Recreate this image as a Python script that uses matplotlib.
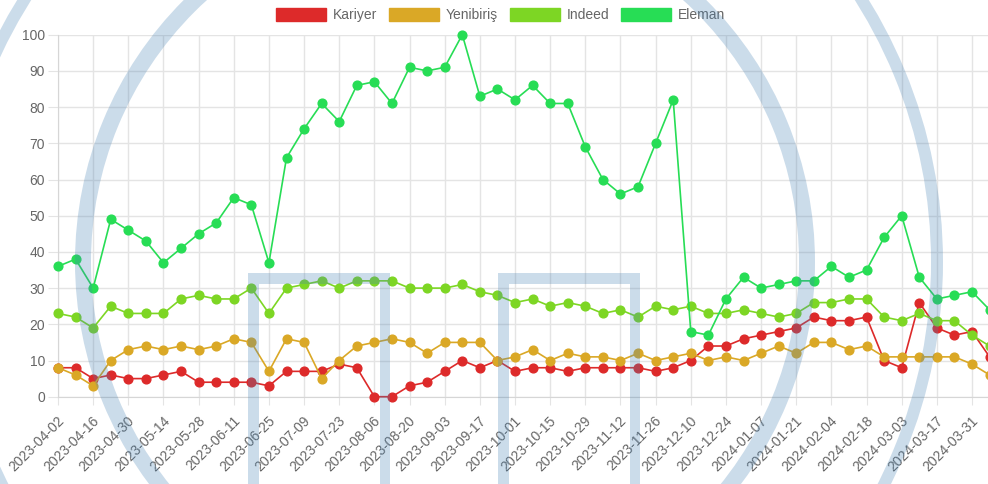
import numpy as np
import pandas as pd
import matplotlib
matplotlib.use("Agg")
import matplotlib.pyplot as plt
from matplotlib.patches import Patch, Annulus, Rectangle
from matplotlib.transforms import ScaledTranslation

plt.rcParams['font.family'] = ['Liberation Sans', 'DejaVu Sans']

# --- data (weekly) ---
dates = pd.date_range('2023-04-02', periods=54, freq='7D').strftime('%Y-%m-%d').tolist()

kariyer = [8, 8, 5, 6, 5, 5, 6, 7, 4, 4, 4, 4, 3, 7, 7, 7, 9, 8, 0, 0,
           3, 4, 7, 10, 8, 10, 7, 8, 8, 7, 8, 8, 8, 8, 7, 8, 10, 14, 14, 16,
           17, 18, 19, 22, 21, 21, 22, 10, 8, 26, 19, 17, 18, 11]
yenibiris = [8, 6, 3, 10, 13, 14, 13, 14, 13, 14, 16, 15, 7, 16, 15, 5, 10, 14, 15, 16,
             15, 12, 15, 15, 15, 10, 11, 13, 10, 12, 11, 11, 10, 12, 10, 11, 12, 10, 11, 10,
             12, 14, 12, 15, 15, 13, 14, 11, 11, 11, 11, 11, 9, 6]
indeed = [23, 22, 19, 25, 23, 23, 23, 27, 28, 27, 27, 30, 23, 30, 31, 32, 30, 32, 32, 32,
          30, 30, 30, 31, 29, 28, 26, 27, 25, 26, 25, 23, 24, 22, 25, 24, 25, 23, 23, 24,
          23, 22, 23, 26, 26, 27, 27, 22, 21, 23, 21, 21, 17, 14]
eleman = [36, 38, 30, 49, 46, 43, 37, 41, 45, 48, 55, 53, 37, 66, 74, 81, 76, 86, 87, 81,
          91, 90, 91, 100, 83, 85, 82, 86, 81, 81, 69, 60, 56, 58, 70, 82, 18, 17, 27, 33,
          30, 31, 32, 32, 36, 33, 35, 44, 50, 33, 27, 28, 29, 24]

series_names = ['Kariyer', 'Yenibiriş', 'Indeed', 'Eleman']
series_values = [kariyer, yenibiris, indeed, eleman]
colors = ['#dd2a2a', '#daa826', '#7dd624', '#27dd55']

W, H = 988, 484
fig = plt.figure(figsize=(W / 100, H / 100), dpi=100)

# plot area in pixels (last point sits on the right edge of the picture)
left_px, right_px, top_px, bottom_px = 58, 989.6, 34.7, 396.7
ax = fig.add_axes([left_px / W, 1 - bottom_px / H,
                   (right_px - left_px) / W, (bottom_px - top_px) / H])

x = np.arange(len(dates))
for name, vals, c in zip(series_names, series_values, colors):
    ax.plot(x, vals, color=c, lw=1.2, marker='o', ms=6.3, mec=c, mfc=c,
            label=name, clip_on=False, zorder=3)

ax.set_xlim(0, len(dates) - 1)
ax.set_ylim(0, 100)
ax.set_yticks(range(0, 101, 10))
ax.set_xticks(x[::2])
ax.set_xticklabels(dates[::2], rotation=45, ha='right', va='center',
                   rotation_mode='anchor')

grid_c = '#e4e4e4'
ax.grid(True, color=grid_c, lw=1)
ax.set_axisbelow(True)
for s in ['top', 'right']:
    ax.spines[s].set_visible(False)
for s in ['left', 'bottom']:
    ax.spines[s].set_color('#d6d6d6')
ax.tick_params(axis='y', length=7.2, pad=2, color=grid_c, labelcolor='#666666', labelsize=10)
ax.tick_params(axis='x', length=5.8, pad=10, color=grid_c, labelcolor='#666666', labelsize=10)
for lbl in ax.get_xticklabels():
    lbl.set_transform(lbl.get_transform() + ScaledTranslation(4 / 100, 0, fig.dpi_scale_trans))

handles = [Patch(facecolor=c, edgecolor=c, label=n) for n, c in zip(series_names, colors)]
fig.legend(handles=handles, loc='center', bbox_to_anchor=(500.5 / W, 1 - 15 / H),
           ncol=4, frameon=False, fontsize=10, labelcolor='#666666',
           handlelength=3.6, handleheight=1.05, handletextpad=0.5, columnspacing=0.85)

# --- watermark overlay (pixel coordinates) ---
wm = fig.add_axes([0, 0, 1, 1], zorder=10)
wm.set_xlim(0, W)
wm.set_ylim(H, 0)
wm.axis('off')
wm_color = (70 / 255, 130 / 255, 180 / 255, 0.28)
wm.add_patch(Annulus((445, 262), 370, 16, color=wm_color, lw=0))
wm.add_patch(Annulus((443, 262), 500, 12, color=wm_color, lw=0))
for x0 in (248, 498):
    wm.add_patch(Rectangle((x0, 273), 10.5, H - 273, color=wm_color, lw=0))
    wm.add_patch(Rectangle((x0 + 131.5, 273), 10.5, H - 273, color=wm_color, lw=0))
    wm.add_patch(Rectangle((x0 + 10.5, 273), 121, 11, color=wm_color, lw=0))

fig.savefig('out.png', dpi=100)
